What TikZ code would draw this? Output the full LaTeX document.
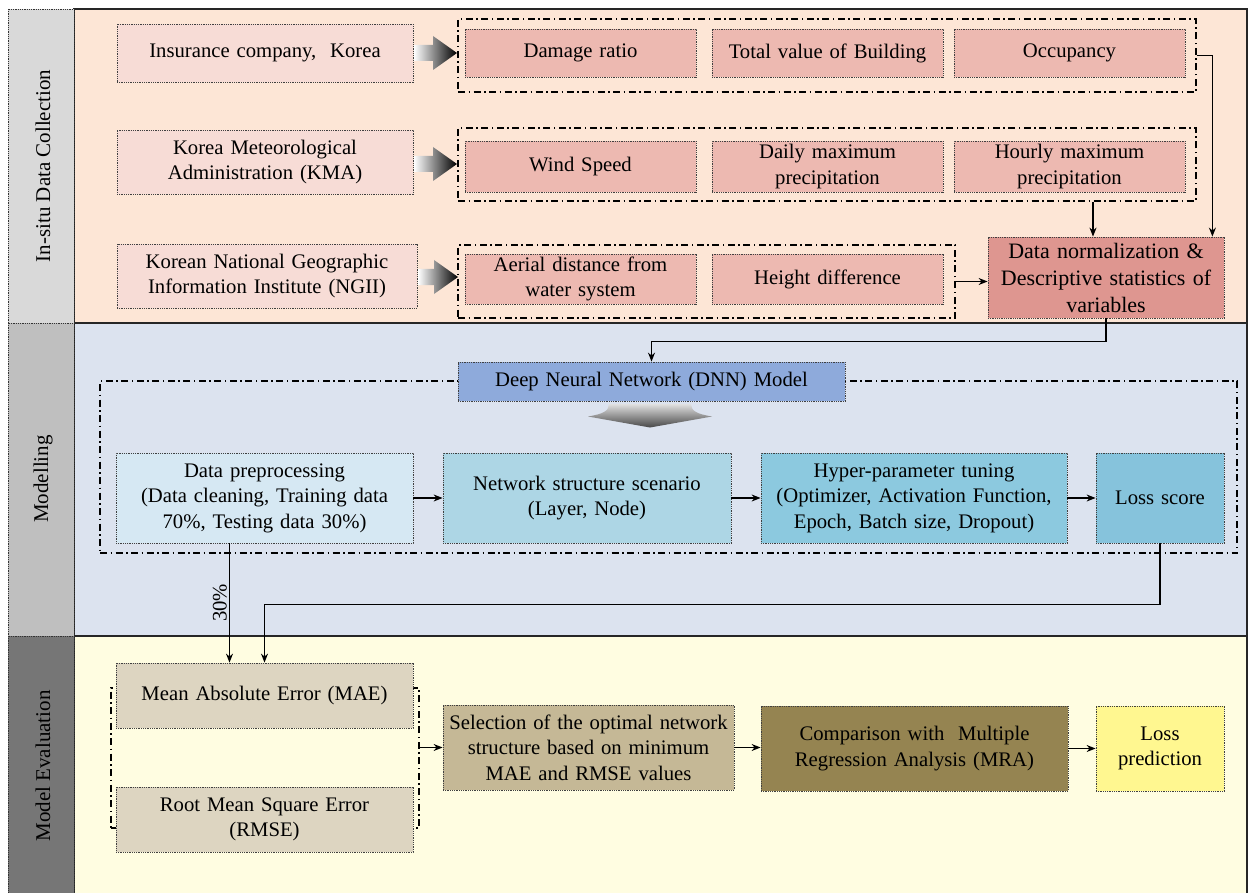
\documentclass[tikz,border=0pt]{standalone}
\usepackage{fontspec}
\setmainfont{Liberation Serif}
\usetikzlibrary{arrows.meta}
\definecolor{pA}{RGB}{253,230,214}
\definecolor{pB}{RGB}{220,227,239}
\definecolor{pC}{RGB}{255,253,225}
\definecolor{bA}{RGB}{217,217,217}
\definecolor{bB}{RGB}{191,191,191}
\definecolor{bC}{RGB}{118,118,118}
\definecolor{srcc}{RGB}{247,220,214}
\definecolor{itemc}{RGB}{237,185,177}
\definecolor{normc}{RGB}{222,150,144}
\definecolor{dnnc}{RGB}{142,170,219}
\definecolor{prec}{RGB}{214,232,243}
\definecolor{netc}{RGB}{173,214,229}
\definecolor{hypc}{RGB}{140,201,223}
\definecolor{lossc}{RGB}{134,195,220}
\definecolor{maec}{RGB}{221,213,193}
\definecolor{selc}{RGB}{197,184,150}
\definecolor{cmpc}{RGB}{149,132,81}
\definecolor{lpc}{RGB}{255,247,144}
\newcommand{\fs}{\fontsize{20.7}{25.5}\selectfont}
\newcommand{\bigarr}[3]{% x start, x tip, y center
  \shade[left color=white, right color=black]
    (#1,#3-8) -- (#2-24,#3-8) -- (#2-24,#3-17) -- (#2,#3) -- (#2-24,#3+17) -- (#2-24,#3+8) -- (#1,#3+8) -- cycle;}
\begin{document}
\begin{tikzpicture}[x=1pt,y=-1pt,
  panelbox/.style={draw=black!85, line width=1.4pt},
  barbox/.style={draw=black!80, line width=0.8pt, dash pattern=on 1pt off 0.8pt},
  bartext/.style={rotate=90, font=\fontsize{21}{25}\selectfont},
  boxbase/.style={draw=black!75, line width=0.8pt, dash pattern=on 1pt off 0.8pt, align=center, inner sep=2pt, font=\fs},
  grpbox/.style={draw=black, line width=1.2pt, dash pattern=on 7pt off 3.5pt on 1.5pt off 3.5pt, inner sep=0pt},
  conn/.style={draw=black, line width=1.2pt, -{Stealth[length=9pt,width=7pt]}},
  plain/.style={draw=black, line width=1.2pt}
]
\clip (0,0) rectangle (1252,893);
\fill[white] (0,0) rectangle (1252,893);

% panels
\draw[panelbox, fill=pA] (74,9) rectangle (1247,323);
\draw[panelbox, fill=pB] (74,323) rectangle (1247,636);
\draw[panelbox, fill=pC] (74,636) rectangle (1247,905);

% side bars
\draw[barbox, fill=bA] (8,9) rectangle (74,323);
\draw[barbox, fill=bB] (8,323) rectangle (74,636);
\draw[barbox, fill=bC] (8,636) rectangle (74,905);
\node[bartext] (barA) at (43,166) {In-situ Data Collection};
\node[bartext] (barB) at (43,479) {Modelling};
\node[bartext] (barC) at (43,766) {Model Evaluation};

% ---- In-situ data collection ----
\node[boxbase, fill=srcc, minimum width=296pt, minimum height=58pt, text width=288pt] (src1) at (265,53) {Insurance company,\ \ Korea};
\node[boxbase, fill=srcc, minimum width=296pt, minimum height=64pt, text width=288pt] (src2) at (265,162) {Korea Meteorological\\Administration (KMA)};
\node[boxbase, fill=srcc, minimum width=300pt, minimum height=64pt, text width=292pt] (src3) at (267,276) {Korean National Geographic\\Information Institute (NGII)};

\node[grpbox, minimum width=738pt, minimum height=73pt] (grp1) at (827,55.5) {};
\node[grpbox, minimum width=738pt, minimum height=73pt] (grp2) at (827,164.5) {};
\node[grpbox, minimum width=497pt, minimum height=73pt] (grp3) at (706.5,281.5) {};

\bigarr{414}{457}{53}
\bigarr{414}{457}{164}
\bigarr{418}{458}{277}

\node[boxbase, fill=itemc, minimum width=231pt, minimum height=48pt, text width=225pt] (dmg) at (580.5,53) {Damage ratio};
\node[boxbase, fill=itemc, minimum width=231pt, minimum height=48pt, text width=225pt] (tvb) at (827.5,53) {Total value of Building};
\node[boxbase, fill=itemc, minimum width=231pt, minimum height=48pt, text width=225pt] (occ) at (1069.5,53) {Occupancy};

\node[boxbase, fill=itemc, minimum width=231pt, minimum height=51pt, text width=225pt] (wind) at (580.5,166.5) {Wind Speed};
\node[boxbase, fill=itemc, minimum width=231pt, minimum height=51pt, text width=225pt] (daily) at (827.5,166.5) {Daily maximum\\precipitation};
\node[boxbase, fill=itemc, minimum width=231pt, minimum height=51pt, text width=225pt] (hourly) at (1069.5,166.5) {Hourly maximum\\precipitation};

\node[boxbase, fill=itemc, minimum width=231pt, minimum height=50pt, text width=225pt] (aerial) at (580.5,279) {Aerial distance from\\water system};
\node[boxbase, fill=itemc, minimum width=231pt, minimum height=50pt, text width=225pt] (hdiff) at (827.5,279) {Height difference};

\node[boxbase, fill=normc, minimum width=236pt, minimum height=81pt, text width=230pt, font=\fontsize{22}{27}\selectfont] (norm) at (1106,277.5) {Data normalization \&\\Descriptive statistics of\\variables};

\draw[conn] (grp1.east) -| ([xshift=-12pt]norm.north east);
\draw[conn] ([xshift=-13pt]norm.north |- grp2.south) -- ([xshift=-13pt]norm.north);
\draw[conn] (grp3.east) -- (grp3.east -| norm.west);

% ---- Modelling ----
\node[grpbox, minimum width=1137pt, minimum height=172pt] (mgrp) at (668.5,467) {};
\node[boxbase, fill=dnnc, minimum width=387pt, minimum height=39pt, text width=380pt] (dnn) at (651.5,381.5) {Deep Neural Network (DNN) Model};
\shade[top color=black!12, bottom color=black!72]
  (609,404) .. controls (609,411) and (603,414) .. (588,416.5) -- (650,427.5) -- (712,416.5) .. controls (697,414) and (691,411) .. (691,404) -- cycle;

\draw[conn] (norm.south) -- ++(0,23) -| (dnn.north);

\node[boxbase, fill=prec, minimum width=297pt, minimum height=90pt, text width=292pt] (pre) at (264.5,498) {Data preprocessing\\(Data cleaning, Training data\\70\%, Testing data 30\%)};
\node[boxbase, fill=netc, minimum width=288pt, minimum height=90pt, text width=282pt] (net) at (587,498) {Network structure scenario\\(Layer, Node)};
\node[boxbase, fill=hypc, minimum width=306pt, minimum height=90pt, text width=302pt] (hyp) at (914,498) {Hyper-parameter tuning\\(Optimizer, Activation Function,\\Epoch, Batch size, Dropout)};
\node[boxbase, fill=lossc, minimum width=128pt, minimum height=90pt, text width=122pt] (loss) at (1160,498) {Loss score};

\draw[conn] (pre.east) -- (net.west);
\draw[conn] (net.east) -- (hyp.west);
\draw[conn] (hyp.east) -- (loss.west);

% ---- Model evaluation ----
\node[grpbox, minimum width=308pt, minimum height=140pt] (egrp) at (265,758) {};
\node[boxbase, fill=maec, minimum width=297pt, minimum height=65pt, text width=292pt] (mae) at (264.5,695.5) {Mean Absolute Error (MAE)};
\node[boxbase, fill=maec, minimum width=297pt, minimum height=65pt, text width=292pt] (rmse) at (264.5,819.5) {Root Mean Square Error\\(RMSE)};
\node[boxbase, fill=selc, minimum width=289pt, minimum height=85pt, text width=287pt] (sel) at (588.5,747.5) {Selection of the optimal network\\structure based on minimum\\MAE and RMSE values};
\node[boxbase, fill=cmpc, minimum width=307pt, minimum height=85pt, text width=300pt] (cmp) at (914.5,748.5) {Comparison with\ \ Multiple\\Regression Analysis (MRA)};
\node[boxbase, fill=lpc, minimum width=128pt, minimum height=85pt, text width=122pt] (lpred) at (1160,748.5) {Loss\\prediction};

\draw[conn] ([xshift=-35pt]pre.south) -- ([xshift=-35pt]mae.north)
  node[midway, rotate=90, anchor=south, font=\fs, inner sep=2pt] {30\%};
\draw[conn] (loss.south) -- ++(0,61) -| (mae.north);
\draw[conn] (egrp.east |- sel.west) -- (sel.west);
\draw[conn] (sel.east) -- (sel.east -| cmp.west);
\draw[conn] (cmp.east) -- (cmp.east -| lpred.west);
\end{tikzpicture}
\end{document}
